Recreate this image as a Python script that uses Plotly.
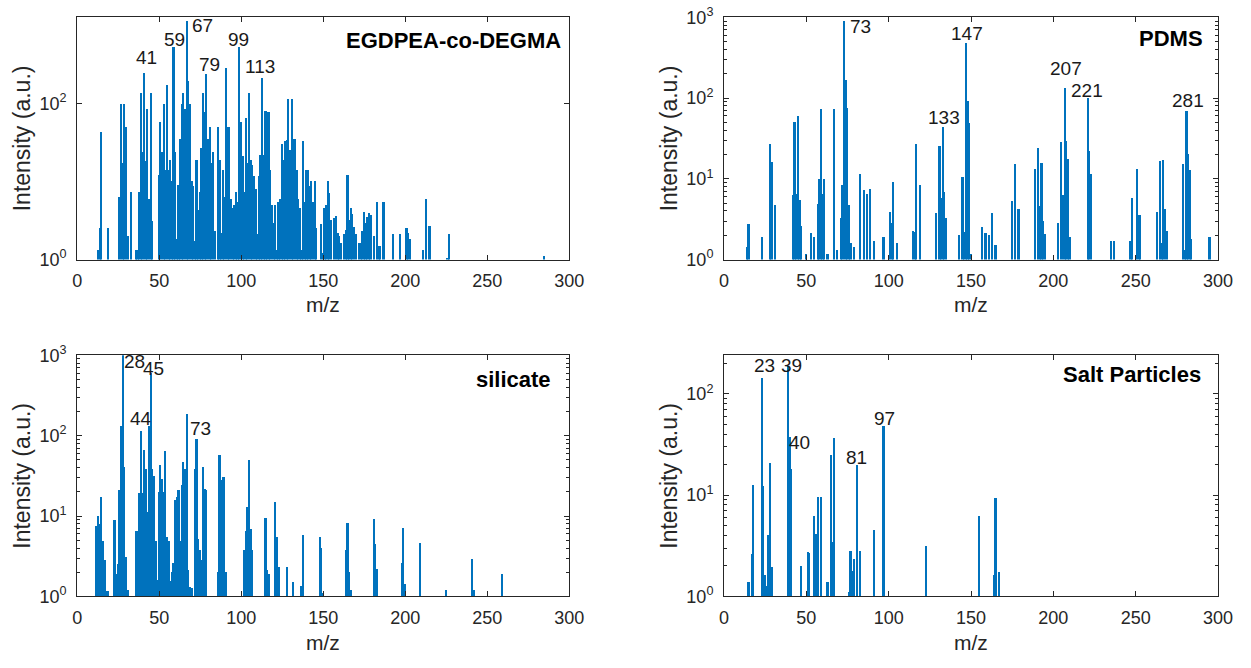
import numpy as np
import plotly.graph_objects as go

# ---------------- spectra (m/z, intensity in a.u.) ----------------
egdpea_mz = [13, 14, 15, 19, 26, 27, 28, 29, 30, 31, 33, 36, 37, 38, 39, 40, 41, 42, 43, 44,
             45, 46, 50, 51, 52, 53, 54, 55, 56, 57, 58, 59, 60, 61, 62, 63, 64, 65, 66, 67,
             68, 69, 70, 71, 72, 73, 74, 75, 76, 77, 78, 79, 80, 81, 82, 83, 84, 86, 87, 88,
             89, 90, 91, 92, 93, 94, 95, 96, 97, 98, 99, 100, 101, 102, 103, 104, 105, 106, 107, 108,
             109, 110, 111, 112, 113, 114, 115, 116, 117, 118, 119, 120, 121, 122, 123, 124, 125, 126, 127, 128,
             129, 130, 131, 132, 133, 134, 135, 136, 137, 138, 139, 140, 141, 142, 143, 144, 145, 146, 149, 150,
             151, 152, 153, 154, 155, 157, 158, 159, 160, 161, 163, 164, 165, 166, 167, 168, 169, 170, 172, 173,
             174, 175, 176, 177, 178, 179, 181, 183, 184, 185, 187, 193, 197, 201, 202, 203, 211, 213, 215, 226,
             227, 285]
egdpea_int = [1.3, 2.5, 43, 2.5, 6.3, 98, 17, 98, 50, 2.0, 7.2, 1.3, 1.3, 7.2, 137, 24, 246, 18, 85, 6,
              135, 3.1, 12, 58, 24, 98, 14, 174, 14, 19, 10, 525, 24, 1.8, 9, 35, 98, 137, 85, 1140,
              191, 98, 10, 8.7, 1.7, 18.6, 4.3, 7.2, 27, 137, 78, 238, 35, 50, 17, 24, 2.3, 50, 19, 2.2,
              14, 6.3, 280, 50, 50, 5.9, 4.6, 4.9, 7.2, 5.4, 525, 58, 21, 7.2, 64, 17, 137, 18.6, 16, 11.6,
              8, 2.1, 11.6, 21.5, 210, 21.5, 80, 78, 78, 14, 4.9, 2.9, 4.9, 1.3, 5.4, 6, 30, 18.6, 33, 34,
              113, 25, 113, 35, 35, 14, 6, 4.5, 1.3, 33, 5.4, 14, 14, 8.7, 10, 5.4, 10, 2.5, 2.8, 1.2,
              4.6, 4.9, 10, 7, 3.2, 3.4, 3.6, 2.2, 2.0, 1.6, 2.1, 2.4, 12, 3.2, 4.6, 3.8, 2.6, 2.1, 1.6, 1.6,
              2.3, 4.0, 2.9, 3.5, 3.9, 3.7, 2.0, 5.5, 1.5, 1.5, 5.5, 2.1, 2.1, 2.5, 2.2, 1.8, 1.3, 6, 2.7, 1.05,
              2.1, 1.1]

pdms_mz = [14, 15, 23, 28, 29, 31, 42, 43, 44, 45, 46, 47, 50, 53, 55, 57, 58, 59, 60, 61,
           63, 67, 69, 71, 72, 73, 74, 75, 76, 77, 79, 83, 85, 87, 89, 91, 97, 101, 102, 103,
           105, 115, 116, 117, 119, 129, 131, 132, 133, 134, 135, 143, 145, 146, 147, 148, 149, 150, 157, 159,
           161, 163, 165, 175, 177, 179, 189, 191, 192, 193, 194, 195, 203, 205, 206, 207, 208, 209, 210, 221,
           222, 223, 235, 237, 247, 248, 251, 252, 253, 263, 265, 266, 267, 268, 269, 279, 280, 281, 282, 283,
           284, 295]
pdms_int = [1.4, 2.7, 1.9, 27, 16, 4.7, 6.3, 50, 6.5, 59, 5.4, 2.6, 1.15, 2.1, 1.9, 4.9, 10, 73, 6.5, 10,
            1.16, 73, 1.3, 3.2, 8.2, 890, 168, 75, 4.7, 1.6, 1.4, 11.3, 7.2, 6.5, 7.5, 1.66, 1.9, 3.9, 2.8, 9,
            1.6, 2.25, 2.2, 26.5, 8.2, 3.7, 25.6, 5.7, 43, 6.8, 3.2, 2.0, 10.4, 2.2, 480, 91, 48, 1.15, 2.5, 2.1,
            2.0, 3.7, 1.5, 5.3, 15, 4.2, 13, 24, 4.6, 15.4, 3, 2.05, 2.85, 28.6, 6.2, 131, 29, 17.5, 1.9, 100,
            21.7, 11.5, 1.66, 1.7, 1.7, 5.7, 13, 3.5, 3.5, 3.85, 16.4, 1.6, 17, 4.2, 2.25, 15, 1.3, 69, 20, 12.8,
            1.8, 1.9]

silicate_mz = [12, 13, 14, 15, 16, 17, 18, 19, 23, 24, 25, 26, 27, 28, 29, 30, 31, 36, 37, 38,
               39, 40, 41, 42, 43, 44, 45, 46, 47, 48, 49, 50, 51, 52, 53, 54, 55, 56, 57, 58,
               59, 60, 61, 62, 63, 64, 65, 66, 67, 68, 69, 70, 72, 73, 74, 75, 76, 77, 78, 79,
               86, 87, 88, 89, 90, 91, 102, 103, 104, 105, 106, 107, 115, 116, 117, 121, 122, 123, 128, 132,
               137, 138, 148, 149, 150, 164, 165, 166, 167, 181, 182, 183, 198, 199, 200, 209, 225, 241, 242, 259]
silicate_int = [7.5, 9.9, 8, 17, 4.9, 2.8, 1.15, 1.15, 8.8, 1.9, 2.5, 21, 131, 1050, 40, 3.1, 1.2, 6.5, 6.5, 19,
                114, 19, 65, 38, 11, 131, 600, 38, 31, 4.9, 1.6, 20, 43, 29, 20, 63, 5.4, 4.9, 1.55, 2,
                2.6, 15.7, 17, 21, 4.9, 24, 47, 38, 185, 2.1, 1.3, 1.25, 38, 90, 5.2, 3.8, 2.8, 40, 21.6, 21,
                2.0, 57, 28, 30, 30, 2, 3.7, 6.5, 13, 50, 6.8, 3.7, 9.4, 2.1, 1.9, 15, 5.4, 2.3, 2.3, 1.5,
                1.35, 5.8, 5.5, 4.0, 1.1, 3.8, 8.2, 2.0, 1.2, 9.2, 4.4, 2.2, 2.6, 7, 1.4, 4.6, 1.2, 2.9, 1.2, 1.9]

salt_mz = [15, 17, 18, 23, 24, 25, 26, 27, 28, 29, 39, 40, 41, 47, 51, 52, 55, 56, 57, 59,
           63, 65, 66, 67, 76, 77, 78, 79, 81, 83, 91, 97, 123, 155, 164, 165, 167]
salt_int = [1.37, 2.6, 12.4, 142, 12.2, 1.6, 1.27, 4, 20.7, 1.95, 186, 37, 17.8, 1.98, 2.7, 2.65, 6.2, 4.1, 9.6, 9.6,
            1.37, 24.5, 3.4, 36, 1.1, 2.8, 1.77, 2.3, 19.5, 2.8, 4.5, 47.5, 3.1, 6.2, 1.6, 9.4, 1.73]

panel_titles = ["EGDPEA-co-DEGMA", "PDMS", "silicate", "Salt Particles"]

# peak annotations: (text, m/z position, intensity position)
egdpea_peaks = [("41", 42.4, 390), ("59", 59.5, 670), ("67", 76.5, 1000),
                ("79", 80.5, 316), ("99", 98.5, 670), ("113", 111.4, 300)]
pdms_peaks = [("73", 82.8, 760), ("133", 133.6, 58), ("147", 147.5, 630),
              ("207", 207.8, 230), ("221", 220.3, 125), ("281", 281.7, 92)]
silicate_peaks = [("28", 35.0, 830), ("45", 46.5, 690), ("44", 39.0, 164), ("73", 75.0, 123)]
salt_peaks = [("23", 24.7, 190), ("39", 40.8, 190), ("40", 45.6, 33),
              ("81", 80.3, 23.4), ("97", 97.6, 57.6)]

x_ticks = [0, 50, 100, 150, 200, 250, 300]

# ---------------- styling ----------------
BAR_COLOR = "#0072BD"
AX_COLOR = "#262626"
FONT = "Liberation Sans"

fig = go.Figure()

spectra = [(egdpea_mz, egdpea_int), (pdms_mz, pdms_int),
           (silicate_mz, silicate_int), (salt_mz, salt_int)]
for i, (mz, inten) in enumerate(spectra):
    sfx = "" if i == 0 else str(i + 1)
    fig.add_trace(go.Bar(x=mz, y=inten, width=1.0, xaxis="x" + sfx, yaxis="y" + sfx,
                         marker=dict(color=BAR_COLOR, line=dict(width=0)),
                         showlegend=False))

# axis boxes in paper coordinates
x_dom_left = [73.3 / 1251, 573.5 / 1251]
x_dom_right = [730.7 / 1251, 1232.7 / 1251]
y_dom_top = [1 - 256 / 668, 1 - 5.5 / 668]
y_dom_bot = [1 - 604.3 / 668, 1 - 355 / 668]

domains = [(x_dom_left, y_dom_top), (x_dom_right, y_dom_top),
           (x_dom_left, y_dom_bot), (x_dom_right, y_dom_bot)]
y_ranges = [[0, 3.106], [0, 3.0], [0, 3.0], [0, 2.38]]
y_major = [[1, 100], [1, 10, 100, 1000], [1, 10, 100, 1000], [1, 10, 100]]


def sup_label(v):
    return "10<sup>%d</sup>" % int(round(np.log10(v)))


layout = {}
for i, ((xd, yd), yr, ym) in enumerate(zip(domains, y_ranges, y_major)):
    sfx = "" if i == 0 else str(i + 1)
    layout["xaxis" + sfx] = dict(
        domain=xd, anchor="y" + sfx, range=[0, 300], tickmode="array", tickvals=x_ticks,
        ticks="inside", ticklen=5, tickcolor=AX_COLOR, showline=True, linecolor=AX_COLOR,
        linewidth=1, mirror="allticks", showgrid=False, zeroline=False,
        tickfont=dict(family=FONT, size=18, color=AX_COLOR), ticklabelstandoff=5,
    )
    minor = None
    if i > 0:
        mv = [k * 10 ** d for d in range(0, 3) for k in range(2, 10)]
        minor = dict(tickmode="array", tickvals=mv, ticks="inside", ticklen=3,
                     tickcolor=AX_COLOR, showgrid=False)
    ax = dict(
        domain=yd, anchor="x" + sfx, type="log", range=yr, tickmode="array",
        tickvals=ym, ticktext=[sup_label(v) for v in ym],
        ticks="inside", ticklen=5, tickcolor=AX_COLOR, showline=True, linecolor=AX_COLOR,
        linewidth=1, mirror="allticks", showgrid=False, zeroline=False,
        tickfont=dict(family=FONT, size=18, color=AX_COLOR), ticklabelstandoff=6,
        title=dict(text="Intensity (a.u.)", font=dict(family=FONT, size=23, color=AX_COLOR),
                   standoff=2),
    )
    if minor:
        ax["minor"] = minor
    layout["yaxis" + sfx] = ax

annotations = []
title_pos = [(0.9864, 0.904), (0.9733, 0.914), (0.9676, 0.898), (0.970, 0.921)]
for i, (t, (tx, ty)) in enumerate(zip(panel_titles, title_pos)):
    sfx = "" if i == 0 else str(i + 1)
    annotations.append(dict(text="<b>%s</b>" % t, x=tx, y=ty, xref="x%s domain" % sfx,
                            yref="y%s domain" % sfx, xanchor="right", yanchor="middle",
                            showarrow=False, font=dict(family=FONT, size=22, color="#000000")))

# x-axis titles under each panel
for i, yc in enumerate([302, 302, 652, 652]):
    sfx = "" if i == 0 else str(i + 1)
    annotations.append(dict(text="m/z", x=0.5, y=1 - yc / 668, xref="x%s domain" % sfx,
                            yref="paper", xanchor="center", yanchor="middle", showarrow=False,
                            font=dict(family=FONT, size=21, color=AX_COLOR)))

for i, peaks in enumerate([egdpea_peaks, pdms_peaks, silicate_peaks, salt_peaks]):
    sfx = "" if i == 0 else str(i + 1)
    for txt, px, py in peaks:
        annotations.append(dict(text=txt, x=px, y=np.log10(py), xref="x" + sfx, yref="y" + sfx,
                                xanchor="center", yanchor="middle", showarrow=False,
                                font=dict(family=FONT, size=19, color="#1a1a1a")))

fig.update_layout(
    width=1251, height=668, margin=dict(l=0, r=0, t=0, b=0),
    paper_bgcolor="white", plot_bgcolor="white", bargap=0,
    annotations=annotations, **layout,
)

fig.write_html("out.html")
